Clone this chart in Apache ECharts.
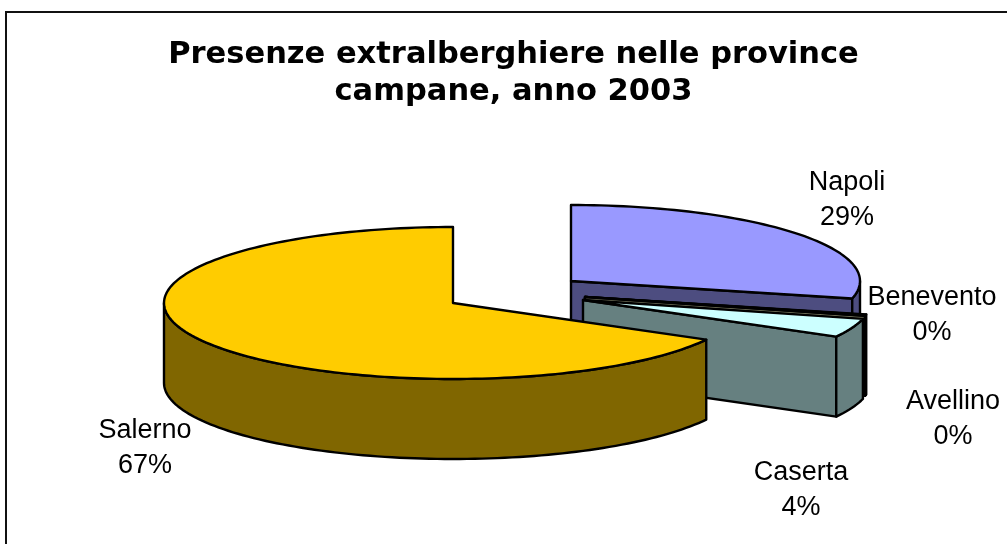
<!DOCTYPE html>
<html><head><meta charset="utf-8">
<style>html,body{margin:0;padding:0;background:#fff}#c{width:1007px;height:544px}</style>
<script src="https://cdn.jsdelivr.net/npm/echarts@6/dist/echarts.min.js"></script>
</head><body><div id="c"></div>
<script>
const categories = ['Napoli','Benevento','Avellino','Caserta','Salerno'];
const values = [28.7,0.1,0.2,4.0,67.0];
const titleLines = ['Presenze extralberghiere nelle province','campane, anno 2003'];

// Style / layout (not data)
const topColors = ['#9999FF','#993366','#FFFFCC','#CCFFFF','#FFCC00'];
const wallColors = ['#4D4D80','#4D1A33','#808066','#668080','#806600'];
const explode = [[118,-22],[132,-6],[132,-6],[130,-3],[0,0]];
const labelPos = [[847,200],[932,315],[953,419],[801,490],[145,448]];
const cx=453, cy=303, rx=289, ry=76, depth=80;

const total = values.reduce((a,b)=>a+b,0);
const rad = d=>d*Math.PI/180;
function pt(ox,oy,deg,dz){return [ox+rx*Math.sin(rad(deg)), oy-ry*Math.cos(rad(deg))+(dz||0)];}
function arc(ox,oy,a,b,dz){const n=Math.max(2,Math.ceil(Math.abs(b-a)/1.5));const r=[];for(let i=0;i<=n;i++)r.push(pt(ox,oy,a+(b-a)*i/n,dz));return r;}

function renderItem(params,api){
  const i=api.value(0), v=api.value(1);
  let start=0; for(let k=0;k<i;k++) start+=values[k];
  const a0=start/total*360, a1=(start+v)/total*360;
  const ox=cx+explode[i][0], oy=cy+explode[i][1];
  const line={stroke:'#000',lineWidth:2.4,lineJoin:'round'};
  const kids=[];
  const poly=(pts,fill)=>kids.push({type:'polygon',shape:{points:pts},style:Object.assign({fill:fill},line)});
  if(Math.sin(rad(a1))>0.001){const e=pt(ox,oy,a1);poly([[ox,oy],e,[e[0],e[1]+depth],[ox,oy+depth]],wallColors[i]);}
  if(Math.sin(rad(a0))<-0.001){const e=pt(ox,oy,a0);poly([[ox,oy],e,[e[0],e[1]+depth],[ox,oy+depth]],wallColors[i]);}
  const w0=Math.max(a0,90), w1=Math.min(a1,270);
  if(w1>w0){poly(arc(ox,oy,w0,w1).concat(arc(ox,oy,w1,w0,depth)),wallColors[i]);}
  poly([[ox,oy]].concat(arc(ox,oy,a0,a1)),topColors[i]);
  return {type:'group',children:kids};
}
function renderLabel(params,api){
  const i=api.value(0), v=api.value(1);
  return {type:'text',style:{x:labelPos[i][0],y:labelPos[i][1],text:categories[i]+'\n'+Math.round(v/total*100)+'%',
    fill:'#000',font:'27px "Liberation Sans", Arial, sans-serif',align:'center',verticalAlign:'middle',lineHeight:35}};
}
const chart=echarts.init(document.getElementById('c'),null,{renderer:'canvas'});
chart.setOption({
  animation:false,
  backgroundColor:'#fff',
  title:{text:titleLines.join('\n'),left:508.5,top:32,textAlign:'center',
    textStyle:{fontFamily:'"DejaVu Sans"',fontWeight:'bold',fontSize:30.5,color:'#000',lineHeight:37}},
  graphic:[{type:'rect',z:-1,shape:{x:6,y:12,width:1100,height:600},style:{fill:'#fff',stroke:'#111',lineWidth:2}}],
  series:[
    {type:'custom',coordinateSystem:'none',renderItem,data:values.map((v,i)=>[i,v]),silent:true},
    {type:'custom',coordinateSystem:'none',renderItem:renderLabel,data:values.map((v,i)=>[i,v]),silent:true,z:5}
  ]
});
</script></body></html>
